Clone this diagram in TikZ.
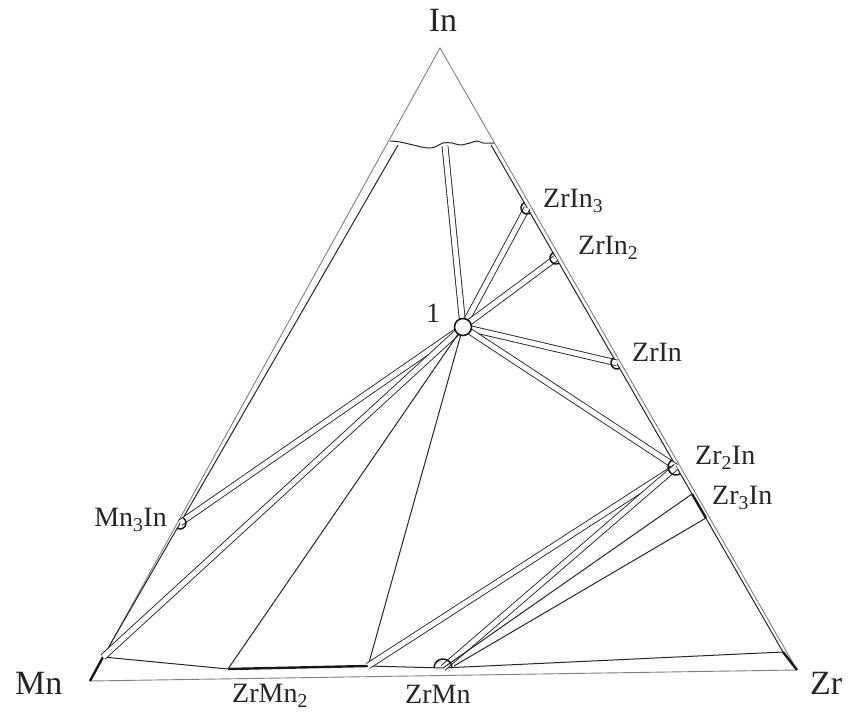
\documentclass[tikz,border=0pt]{standalone}
\usepackage{fontspec}
\setmainfont{Liberation Serif}
\usetikzlibrary{calc}

\begin{document}
\begin{tikzpicture}[
    x=1pt, y=1pt,
    font=\fontsize{28}{30}\selectfont,
    edge/.style={
        draw=black!50,
        line width=0.9pt
    },
    phase/.style={
        draw=black!85,
        line width=1pt
    },
    band/.style={
        draw=black!85,
        line width=0.9pt,
        double=white,
        double distance=5pt
    },
    homog/.style={
        draw=black!90,
        line width=2.4pt
    },
    marker/.style={
        draw=black!90,
        line width=1.5pt
    },
    cmpd/.style={
        inner sep=0pt,
        text=black!85
    },
    elem/.style={
        inner sep=0pt,
        font=\fontsize{34}{36}\selectfont,
        text=black!85
    }
]
\useasboundingbox (0,0) rectangle (848,714);

% =========================================================
% Corners and boundary points
% =========================================================
\coordinate (In) at (440,666);
\coordinate (Mn) at (90,33);
\coordinate (Zr) at (797,44);

\coordinate (innerL) at (398,569);
\coordinate (innerR) at (491,569);
\coordinate (MnI) at (103,57);
\coordinate (ZrI) at (783,62);
\coordinate (capTie) at (445,568);

% =========================================================
% Compounds
% =========================================================
\coordinate (ZrMnTwoA) at (228,45);
\coordinate (ZrMnTwoB) at (368,48);
\coordinate (ZrMn) at (443,46);
\coordinate (ZrMnR) at (454,48);
\coordinate (MnThreeIn) at (180,191);
\coordinate (ZrInThree) at (527,506);
\coordinate (ZrInTwo) at (556,456);
\coordinate (ZrIn) at (617,351);
\coordinate (ZrTwoIn) at (676,247);
\coordinate (ZrThreeInA) at (692,220);
\coordinate (ZrThreeInB) at (706,196);

% =========================================================
% Outer triangle and phase boundaries
% =========================================================
\draw[edge] (In) -- (Mn) -- (Zr) -- cycle;

\draw[phase] plot[smooth, tension=0.6] coordinates {(390,573) (400,572) (413,569) (427,566) (435,567) (443,571) (452,571) (460,569) (470,571) (477,573) (483,571) (494,571)};

\draw[phase] (innerL) -- (MnI);
\draw[phase] (innerR) -- (ZrI);
\draw[phase] (MnI) -- (ZrMnTwoA);
\draw[homog] (ZrMnTwoA) -- (ZrMnTwoB);
\draw[phase] (ZrMnTwoB) -- (ZrMn) -- (ZrI);

\draw[homog] (Mn) -- (MnI);
\draw[homog] (Zr) -- (ZrI);
\draw[homog] (ZrThreeInA) -- (ZrThreeInB);

% =========================================================
% Tie lines from point 1
% =========================================================
\draw[band] (463,387) -- (capTie);
\draw[band] (463,387) -- (ZrInThree);
\draw[band] (463,387) -- (ZrInTwo);
\draw[band] (463,387) -- (ZrIn);
\draw[band] (463,387) -- (ZrTwoIn);
\draw[band] (463,387) -- (MnThreeIn);
\draw[band] (463,387) -- (MnI);
\draw[phase] (463,387) -- (ZrMnTwoA);
\draw[phase] (463,387) -- (ZrMnTwoB);

% =========================================================
% Tie lines in the Zr corner
% =========================================================
\draw[band] (ZrTwoIn) -- (ZrMnTwoB);
\draw[band] (ZrTwoIn) -- (ZrMn);
\draw[phase] (ZrThreeInA) -- (ZrMn);
\draw[phase] (ZrThreeInB) -- (ZrMnR);

% =========================================================
% Markers
% =========================================================
\draw[marker] (ZrInThree) ++(-60:6pt) arc[start angle=-60, end angle=-240, radius=6pt];
\draw[marker] (ZrInTwo) ++(-60:6pt) arc[start angle=-60, end angle=-240, radius=6pt];
\draw[marker] (ZrIn) ++(-60:6pt) arc[start angle=-60, end angle=-240, radius=6pt];
\draw[marker] (ZrTwoIn) ++(-60:8pt) arc[start angle=-60, end angle=-240, radius=8pt];
\draw[marker] (MnThreeIn) ++(-120:6pt) arc[start angle=-120, end angle=60, radius=6pt];
\draw[marker] (ZrMn) ++(0:9pt) arc[start angle=0, end angle=180, radius=9pt];

\node[circle, draw=black!90, fill=white, line width=1.6pt, minimum size=17pt, inner sep=0pt] (pt1) at (463,387) {};

% =========================================================
% Labels
% =========================================================
\node[elem, anchor=base] (lblIn) at (443,682) {In};
\node[elem, anchor=base west] (lblMn) at (15,19) {Mn};
\node[elem, anchor=base west] (lblZr) at (810,19) {Zr};

\node[cmpd, anchor=base] (lbl1) at (433,391) {1};
\node[cmpd, anchor=base west] (lblZrInThree) at (543,506) {ZrIn\textsubscript{3}};
\node[cmpd, anchor=base west] (lblZrInTwo) at (578,459) {ZrIn\textsubscript{2}};
\node[cmpd, anchor=base west] (lblZrIn) at (632,352) {ZrIn};
\node[cmpd, anchor=base west] (lblZrTwoIn) at (695,249) {Zr\textsubscript{2}In};
\node[cmpd, anchor=base west] (lblZrThreeIn) at (712,209) {Zr\textsubscript{3}In};
\node[cmpd, anchor=base east] (lblMnThreeIn) at (167,187) {Mn\textsubscript{3}In};
\node[cmpd, anchor=base west] (lblZrMnTwo) at (232,11) {ZrMn\textsubscript{2}};
\node[cmpd, anchor=base west] (lblZrMn) at (405,10) {ZrMn};

\end{tikzpicture}
\end{document}
